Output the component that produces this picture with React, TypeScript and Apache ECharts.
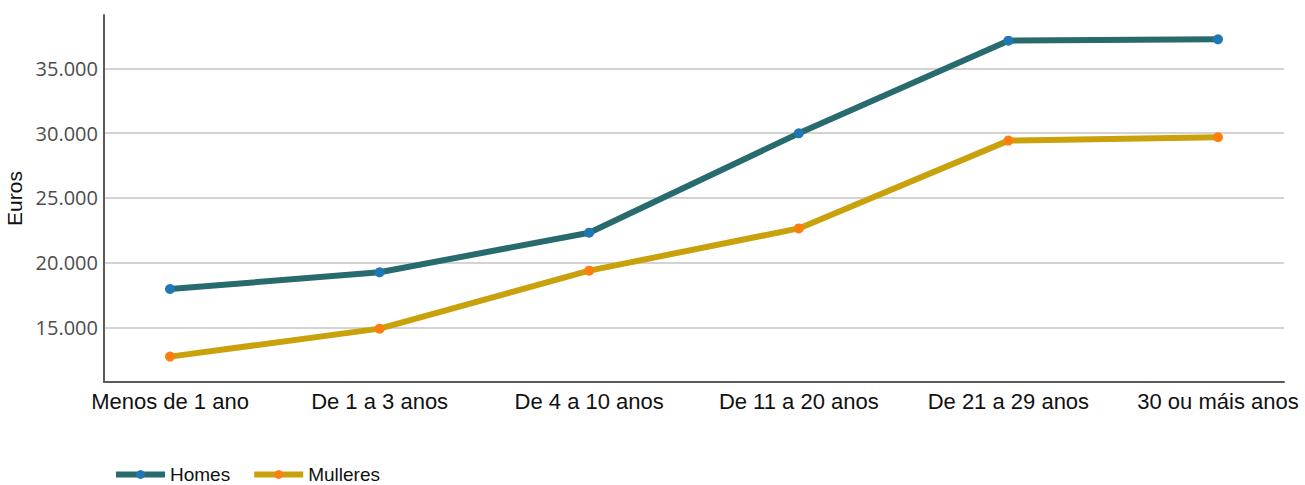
import React, { useEffect, useRef } from "react";
import * as echarts from "echarts";

const categories = ["Menos de 1 ano", "De 1 a 3 anos", "De 4 a 10 anos", "De 11 a 20 anos", "De 21 a 29 anos", "30 ou máis anos"];
const homes = [17970, 19260, 22320, 29990, 37150, 37250];
const mulleres = [12750, 14910, 19390, 22650, 29430, 29690];
const yTicks = [15000, 20000, 25000, 30000, 35000];
const seriesNames = ["Homes", "Mulleres"];

const fmt = (v: number) => {
  const s = String(Math.round(v));
  return s.replace(/\B(?=(\d{3})+(?!\d))/g, ".");
};

export default function App() {
  const ref = useRef<HTMLDivElement>(null);
  useEffect(() => {
    if (!ref.current) return;
    const chart = echarts.init(ref.current, null, { renderer: "svg" });
    const idx = categories.map((_, i) => i);
    chart.setOption({
      animation: false,
      grid: { left: 104, right: 21, top: 15, bottom: 103, containLabel: false, outerBoundsMode: "none" },
      legend: {
        left: 113,
        top: 465,
        padding: 0,
        itemWidth: 49,
        itemHeight: 11,
        itemGap: 21,
        lineStyle: { width: 6 },
        textStyle: { fontFamily: "Liberation Sans", fontSize: 19, color: "#111" },
        data: seriesNames,
      },
      xAxis: {
        type: "value",
        min: -0.315,
        max: 5.315,
        axisLine: { show: true, onZero: false, lineStyle: { color: "#5a5a5a", width: 2 } },
        axisTick: { show: false, customValues: idx },
        splitLine: { show: false },
        axisLabel: {
          customValues: idx,
          formatter: (v: number) => categories[Math.round(v)] ?? "",
          fontFamily: "Liberation Sans",
          fontSize: 22,
          color: "#111",
          margin: 8,
          hideOverlap: false,
        },
      },
      yAxis: {
        type: "value",
        min: 10790,
        max: 39130,
        name: "Euros",
        nameLocation: "middle",
        nameGap: 73,
        nameRotate: 90,
        nameTextStyle: { fontFamily: "Liberation Sans", fontSize: 21, color: "#111" },
        axisLine: { show: true, onZero: false, lineStyle: { color: "#5a5a5a", width: 2 } },
        axisTick: { show: false, customValues: yTicks },
        splitLine: { show: true, lineStyle: { color: "#c4c4c4", width: 1.5 } },
        axisLabel: {
          customValues: yTicks,
          formatter: (v: number) => fmt(v),
          fontFamily: "Open Sans",
          fontSize: 20,
          color: "#4d4d4d",
          margin: 6,
        },
      },
      series: [
        {
          name: seriesNames[0],
          type: "line",
          data: homes.map((v, i) => [i, v]),
          lineStyle: { color: "#276b6f", width: 6 },
          itemStyle: { color: "#1f77b4" },
          color: "#276b6f",
          symbol: "circle",
          symbolSize: 10,
          showSymbol: true,
          z: 3,
        },
        {
          name: seriesNames[1],
          type: "line",
          data: mulleres.map((v, i) => [i, v]),
          lineStyle: { color: "#c9a10b", width: 6 },
          itemStyle: { color: "#ff7f0e" },
          color: "#c9a10b",
          symbol: "circle",
          symbolSize: 10,
          showSymbol: true,
          z: 2,
        },
      ],
    });
    return () => chart.dispose();
  }, []);
  return <div ref={ref} style={{ width: 1305, height: 485, position: "absolute", left: 0, top: 0 }} />;
}
